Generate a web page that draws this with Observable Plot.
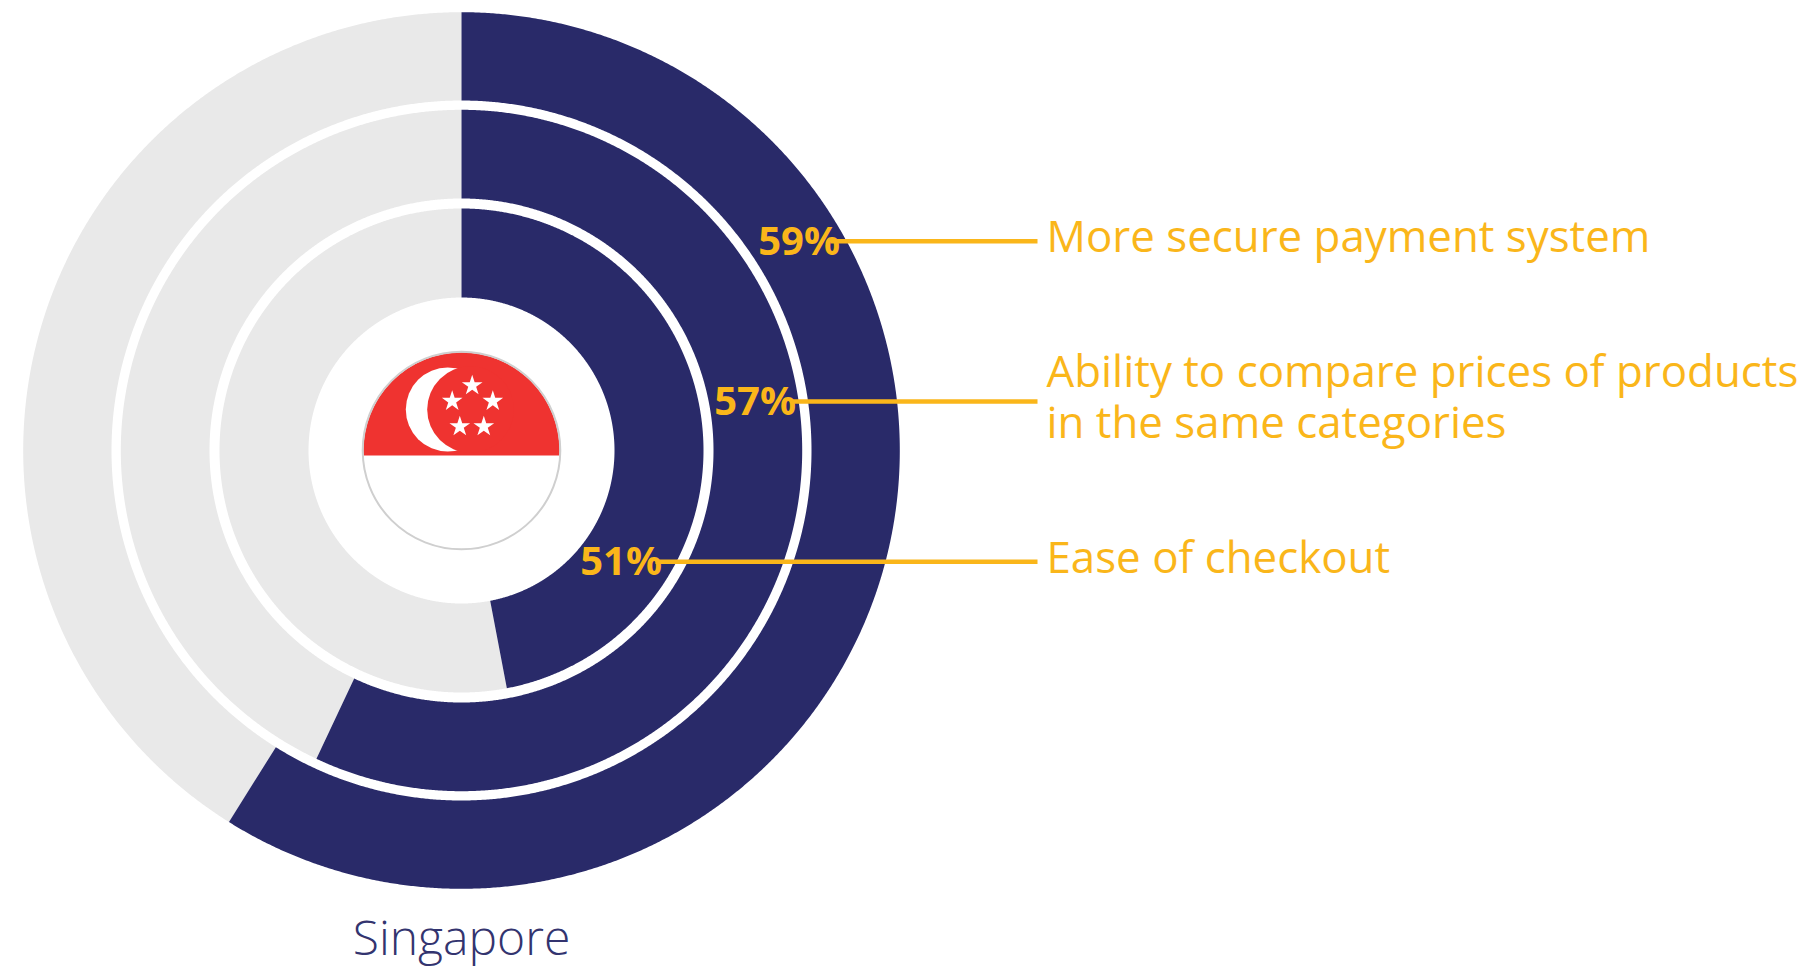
<!DOCTYPE html>
<html><head><meta charset="utf-8">
<script src="https://cdn.jsdelivr.net/npm/d3@7"></script>
<script src="https://cdn.jsdelivr.net/npm/@observablehq/plot@0.6"></script>
<style>html,body{margin:0;padding:0;background:#fff}svg{display:block}</style>
</head><body><div id="chart"></div>
<script>
// Data
const reasons = ["More secure payment system", "Ability to compare prices of products\nin the same categories", "Ease of checkout"];
const printedLabels = ["59%", "57%", "51%"];
const drawnShares = [58.9, 57, 47]; // arc lengths as drawn (the innermost arc is drawn shorter than its printed label)
const country = "Singapore";

// Layout
const W = 1806, H = 972, cx = 461, cy = 450;
const ringRadii = [[350, 438.3], [252, 340.7], [153, 242]];
const pctX = [839.5, 795.5, 661.5], pctY = [254, 414, 574];
const leaderY = [240.7, 401, 561.3], leaderX1 = [830, 792, 655], leaderX2 = 1037;
const reasonX = 1046, reasonY = [251.5, 437, 572];
const navy = "#292a69", grey = "#e9e9e9", gold = "#fab61a", red = "#ef3330";
const stars = [[471.7,385],[451.7,400.7],[492.3,400.7],[459.3,426],[483.3,426]];

function sector(p0, p1, r0, r1) {
  const pts = [], n = Math.max(2, Math.ceil(Math.abs(p1 - p0) * 14));
  for (let i = 0; i <= n; i++) { const a = (p0 + (p1 - p0) * i / n) * 2 * Math.PI / 100; pts.push([cx + r1 * Math.sin(a), cy - r1 * Math.cos(a)]); }
  for (let i = n; i >= 0; i--) { const a = (p0 + (p1 - p0) * i / n) * 2 * Math.PI / 100; pts.push([cx + r0 * Math.sin(a), cy - r0 * Math.cos(a)]); }
  return pts;
}
const poly = (pts, fill) => Plot.line(pts, {x: d => d[0], y: d => d[1], fill, stroke: "none", curve: "linear"});

// top of the flag: circle segment above the chord
const flagR = 98, chord = 455, flagTop = [];
{
  const a0 = Math.asin((chord - cy) / flagR);
  for (let i = 0; i <= 360; i++) {
    const a = Math.PI + (-a0) + (Math.PI + 2 * a0) * i / 360;
    flagTop.push([cx + flagR * Math.cos(a), cy + flagR * Math.sin(a)]);
  }
}

const marks = [];
ringRadii.forEach(([r0, r1], i) => {
  marks.push(poly(sector(drawnShares[i], 100, r0, r1), grey));
  marks.push(poly(sector(0, drawnShares[i], r0, r1), navy));
});
marks.push(poly(flagTop, red));
marks.push(Plot.dot([[cx, cy]], {x: d => d[0], y: d => d[1], r: 98.8, fill: "none", stroke: "#cfcfcf", strokeWidth: 2}));
marks.push(Plot.dot([[447.2, 409]], {x: d => d[0], y: d => d[1], r: 41.9, fill: "#fff"}));
marks.push(Plot.dot([[470, 409]], {x: d => d[0], y: d => d[1], r: 43.3, fill: red}));
marks.push(Plot.dot(stars, {x: d => d[0], y: d => d[1], r: 6.5, symbol: "star", fill: "#fff", stroke: "none"}));
marks.push(Plot.link(leaderY.map((y, i) => ({y, x1: leaderX1[i]})), {x1: "x1", x2: () => leaderX2, y1: "y", y2: "y", stroke: gold, strokeWidth: 4.5}));
marks.push(Plot.text(printedLabels.map((t, i) => ({t, x: pctX[i], y: pctY[i]})), {x: "x", y: "y", text: "t", textAnchor: "end", lineAnchor: "bottom", fill: gold, fontFamily: "Open Sans", fontWeight: 700, fontSize: 40}));
marks.push(Plot.text(reasons.map((t, i) => ({t, y: reasonY[i]})), {x: () => reasonX, y: "y", text: "t", textAnchor: "start", lineAnchor: "bottom", lineHeight: 1.15, fill: gold, fontFamily: "Open Sans", fontWeight: 400, fontSize: 43.85}));
marks.push(Plot.text([country], {x: () => cx, y: () => 954, text: d => d, textAnchor: "middle", lineAnchor: "bottom", fill: "#33346f", fontFamily: "Open Sans", fontWeight: 300, fontSize: 48}));

const plot = Plot.plot({
  width: W, height: H, margin: 0,
  x: {domain: [0, W], range: [0, W], axis: null},
  y: {domain: [0, H], range: [0, H], axis: null},
  style: {background: "#fff"},
  marks
});
document.getElementById("chart").append(plot);
</script>
</body></html>
